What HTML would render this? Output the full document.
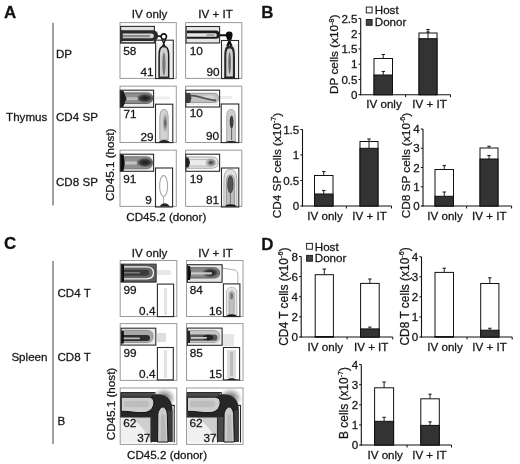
<!DOCTYPE html>
<html><head><meta charset="utf-8"><style>
html,body{margin:0;padding:0;background:#fff;}
svg{display:block;font-family:"Liberation Sans", sans-serif;will-change:transform;}
text{stroke:#222;stroke-width:0.28px;}
</style></head><body>
<svg width="520" height="464" viewBox="0 0 520 464">
<defs>
<filter id="soft" x="-10%" y="-10%" width="120%" height="120%"><feGaussianBlur stdDeviation="0.45"/></filter>
<radialGradient id="cd"><stop offset="0" stop-color="#1a1a1a" stop-opacity="1"/><stop offset="0.55" stop-color="#2a2a2a" stop-opacity="0.85"/><stop offset="1" stop-color="#333" stop-opacity="0"/></radialGradient>
<radialGradient id="cm"><stop offset="0" stop-color="#333" stop-opacity="0.9"/><stop offset="1" stop-color="#555" stop-opacity="0"/></radialGradient>
</defs>
<rect width="520" height="464" fill="#fff"/>
<text x="3.9" y="17.6" font-size="16.9" text-anchor="start" font-weight="bold" fill="#111">A</text>
<text x="261.3" y="17.6" font-size="16.9" text-anchor="start" font-weight="bold" fill="#111">B</text>
<text x="3.9" y="249.4" font-size="16.9" text-anchor="start" font-weight="bold" fill="#111">C</text>
<text x="261.3" y="249.9" font-size="16.9" text-anchor="start" font-weight="bold" fill="#111">D</text>
<line x1="53" y1="22.7" x2="53" y2="205.4" stroke="#7a7a7a" stroke-width="1.4"/>
<line x1="53" y1="260.9" x2="53" y2="444.1" stroke="#7a7a7a" stroke-width="1.4"/>
<text x="56" y="57.6" font-size="11.6" text-anchor="start" font-weight="normal" fill="#111">DP</text>
<text x="47.3" y="121.4" font-size="11.6" text-anchor="end" font-weight="normal" fill="#111">Thymus</text>
<text x="56" y="121.4" font-size="11.6" text-anchor="start" font-weight="normal" fill="#111">CD4 SP</text>
<text x="56" y="185.8" font-size="11.6" text-anchor="start" font-weight="normal" fill="#111">CD8 SP</text>
<text x="47.5" y="361.2" font-size="11.6" text-anchor="end" font-weight="normal" fill="#111">Spleen</text>
<text x="57.5" y="297.3" font-size="11.6" text-anchor="start" font-weight="normal" fill="#111">CD4 T</text>
<text x="57.5" y="361.2" font-size="11.6" text-anchor="start" font-weight="normal" fill="#111">CD8 T</text>
<text x="57.5" y="424.8" font-size="11.6" text-anchor="start" font-weight="normal" fill="#111">B</text>
<text x="149.6" y="18.4" font-size="11.6" text-anchor="middle" font-weight="normal" fill="#111">IV only</text>
<text x="215.5" y="18.4" font-size="11.6" text-anchor="middle" font-weight="normal" fill="#111">IV + IT</text>
<text x="149.6" y="256.7" font-size="11.6" text-anchor="middle" font-weight="normal" fill="#111">IV only</text>
<text x="215.5" y="256.7" font-size="11.6" text-anchor="middle" font-weight="normal" fill="#111">IV + IT</text>
<text x="126.3" y="221.2" font-size="11.6" text-anchor="start" font-weight="normal" fill="#111" textLength="80" lengthAdjust="spacingAndGlyphs">CD45.2 (donor)</text>
<text x="127.1" y="458.8" font-size="11.6" text-anchor="start" font-weight="normal" fill="#111" textLength="80" lengthAdjust="spacingAndGlyphs">CD45.2 (donor)</text>
<text transform="translate(113.6,164.8) rotate(-90)" x="0" y="0" font-size="11.6" text-anchor="middle" fill="#111" textLength="72.5" lengthAdjust="spacingAndGlyphs">CD45.1 (host)</text>
<text transform="translate(114.6,404) rotate(-90)" x="0" y="0" font-size="11.6" text-anchor="middle" fill="#111" textLength="72.5" lengthAdjust="spacingAndGlyphs">CD45.1 (host)</text>
<rect x="120" y="22.6" width="56.30000000000001" height="55.800000000000004" fill="none" stroke="#9a9a9a" stroke-width="1"/>
<rect x="120" y="86.2" width="56.30000000000001" height="56.3" fill="none" stroke="#9a9a9a" stroke-width="1"/>
<rect x="120" y="150.2" width="56.30000000000001" height="56.20000000000002" fill="none" stroke="#9a9a9a" stroke-width="1"/>
<rect x="185.6" y="22.6" width="56.20000000000002" height="55.800000000000004" fill="none" stroke="#9a9a9a" stroke-width="1"/>
<rect x="185.6" y="86.2" width="56.20000000000002" height="56.3" fill="none" stroke="#9a9a9a" stroke-width="1"/>
<rect x="185.6" y="150.2" width="56.20000000000002" height="56.20000000000002" fill="none" stroke="#9a9a9a" stroke-width="1"/>
<rect x="120.2" y="260.5" width="56.60000000000001" height="56.0" fill="none" stroke="#9a9a9a" stroke-width="1"/>
<rect x="120.2" y="323.6" width="56.60000000000001" height="56.799999999999955" fill="none" stroke="#9a9a9a" stroke-width="1"/>
<rect x="120.2" y="388" width="56.60000000000001" height="56.39999999999998" fill="none" stroke="#9a9a9a" stroke-width="1"/>
<rect x="186.5" y="260.5" width="56.5" height="56.0" fill="none" stroke="#9a9a9a" stroke-width="1"/>
<rect x="186.5" y="323.6" width="56.5" height="56.799999999999955" fill="none" stroke="#9a9a9a" stroke-width="1"/>
<rect x="186.5" y="388" width="56.5" height="56.39999999999998" fill="none" stroke="#9a9a9a" stroke-width="1"/>
<g filter="url(#soft)">
<path d="M121,27 L154,27 L154,43 L121,43 Z" fill="#e2e2e2" stroke="none" stroke-width="1" opacity="1"/>
<path d="M156,44 L172.8,44 L172.8,78.2 L156,78.2 Z" fill="#eeeeee" stroke="none" stroke-width="1" opacity="1"/>
<path d="M121,30.199999999999996 L151.52,30.199999999999996 C156.92,30.199999999999996 158,32.72 158,35.8 C158,38.66 156.92,41.0 151.52,41.0 L121,41.0 Z" fill="#2a2a2a" stroke="none" stroke-width="1" opacity="1"/>
<path d="M121,33.4 L151.12,33.4 C153.52,33.4 154,34.57 154,36.0 C154,37.21 153.52,38.2 151.12,38.2 L121,38.2 Z" fill="#d4d4d4" stroke="none" stroke-width="1" opacity="1"/>
<path d="M121,35.0 L148.68,35.0 C149.78,35.0 150,35.540000000000006 150,36.2 C150,36.75 149.78,37.2 148.68,37.2 L121,37.2 Z" fill="#8a8a8a" stroke="none" stroke-width="1" opacity="1"/>
<path d="M121,30 L122.8,30 L122.8,41.5 L121,41.5 Z" fill="#333" stroke="none" stroke-width="1" opacity="1"/>
<path d="M121,42 L154,42 L154,43 L121,43 Z" fill="#777" stroke="none" stroke-width="1" opacity="1"/>
<path d="M161.10000000000002,36.6 A2.7,2.7 0 1 0 166.5,36.6 A2.7,2.7 0 1 0 161.10000000000002,36.6 Z" fill="#fff" stroke="#111" stroke-width="1.6" opacity="1"/>
<path d="M157.5,36 L161.2,36.4" fill="none" stroke="#111" stroke-width="1.6" opacity="1"/>
<path d="M161.8,39 L167.8,53 M165.8,39 L159.6,53" fill="none" stroke="#111" stroke-width="1.3" opacity="1"/>
<path d="M159.1,78.2 L159.1,56.26 C159.1,47.46 161.17,46.5 163.7,46.5 C166.45,46.5 168.7,47.46 168.7,56.26 L168.7,78.2 Z" fill="#cfcfcf" stroke="#1a1a1a" stroke-width="1.5" opacity="1"/>
<path d="M162.3,64 A1.6,11.5 0 1 0 165.5,64 A1.6,11.5 0 1 0 162.3,64 Z" fill="#777" stroke="none" stroke-width="1" opacity="1"/>
<path d="M159,78.4 L169,78.4 L168.5,76.5 L159.5,76.5 Z" fill="#333" stroke="none" stroke-width="1" opacity="1"/>
</g>
<rect x="120.6" y="26.4" width="33.80000000000001" height="16.700000000000003" fill="none" stroke="#2a2a2a" stroke-width="1.1"/>
<rect x="155.6" y="40.2" width="17.700000000000017" height="38.39999999999999" fill="none" stroke="#2a2a2a" stroke-width="1.1"/>
<text x="123.2" y="54.9" font-size="11.8" text-anchor="start" font-weight="normal" fill="#111">58</text>
<text x="153.6" y="75.6" font-size="11.8" text-anchor="end" font-weight="normal" fill="#111">41</text>
<g filter="url(#soft)">
<path d="M187,27 L219,27 L219,43 L187,43 Z" fill="#e6e6e6" stroke="none" stroke-width="1" opacity="1"/>
<path d="M222,44 L238.2,44 L238.2,78.2 L222,78.2 Z" fill="#eeeeee" stroke="none" stroke-width="1" opacity="1"/>
<path d="M186.6,30.6 L214.88000000000002,30.6 C218.98000000000002,30.6 219.8,32.58 219.8,35.0 C219.8,37.09 218.98000000000002,38.8 214.88000000000002,38.8 L186.6,38.8 Z" fill="#1e1e1e" stroke="none" stroke-width="1" opacity="1"/>
<path d="M187,33.300000000000004 L214.70000000000002,33.300000000000004 C216.45000000000002,33.300000000000004 216.8,34.155 216.8,35.2 C216.8,36.080000000000005 216.45000000000002,36.800000000000004 214.70000000000002,36.800000000000004 L187,36.800000000000004 Z" fill="#e4e4e4" stroke="none" stroke-width="1" opacity="1"/>
<path d="M206.0,35.2 A4.5,1.3 0 1 0 215.0,35.2 A4.5,1.3 0 1 0 206.0,35.2 Z" fill="#a8a8a8" stroke="none" stroke-width="1" opacity="1"/>
<path d="M219,35.3 L226,35.2" fill="none" stroke="#111" stroke-width="2" opacity="1"/>
<path d="M225.79999999999998,35.0 A3.4,3.4 0 1 0 232.6,35.0 A3.4,3.4 0 1 0 225.79999999999998,35.0 Z" fill="#111" stroke="none" stroke-width="1" opacity="1"/>
<path d="M227.3,37 L231.5,46 M231.3,37 L227.3,46" fill="none" stroke="#111" stroke-width="2.2" opacity="1"/>
<path d="M224.2,78.2 L224.2,56.980000000000004 C224.2,46.58 226.63,45.5 229.6,45.5 C232.57,45.5 235.0,46.58 235.0,56.980000000000004 L235.0,78.2 Z" fill="#2a2a2a" stroke="none" stroke-width="1" opacity="1"/>
<path d="M226.29999999999998,77.5 L226.29999999999998,56.46 C226.29999999999998,49.16 227.785,48.5 229.6,48.5 C231.415,48.5 232.9,49.16 232.9,56.46 L232.9,77.5 Z" fill="#cfcfcf" stroke="none" stroke-width="1" opacity="1"/>
<path d="M228.29999999999998,63 A1.3,11 0 1 0 230.9,63 A1.3,11 0 1 0 228.29999999999998,63 Z" fill="#666" stroke="none" stroke-width="1" opacity="1"/>
<path d="M224.5,78.4 L235,78.4 L234.5,76.5 L225,76.5 Z" fill="#222" stroke="none" stroke-width="1" opacity="1"/>
</g>
<rect x="186.1" y="26.5" width="33.5" height="16.5" fill="none" stroke="#2a2a2a" stroke-width="1.1"/>
<rect x="221.5" y="40.5" width="17.099999999999994" height="38.099999999999994" fill="none" stroke="#2a2a2a" stroke-width="1.1"/>
<text x="189.8" y="55.2" font-size="11.8" text-anchor="start" font-weight="normal" fill="#111">10</text>
<text x="219.6" y="75.9" font-size="11.8" text-anchor="end" font-weight="normal" fill="#111">90</text>
<g filter="url(#soft)">
<path d="M121,91 L153,91 L153,106.5 L121,106.5 Z" fill="#ececec" stroke="none" stroke-width="1" opacity="1"/>
<path d="M120.5,92.9 L146.2,92.9 C151.45,92.9 152.5,95.285 152.5,98.2 C152.5,101.06 151.45,103.4 146.2,103.4 L120.5,103.4 Z" fill="#8e8e8e" stroke="#555" stroke-width="0.9" opacity="1"/>
<path d="M136,98.2 A9,4.8 0 1 0 154,98.2 A9,4.8 0 1 0 136,98.2 Z" fill="url(#cd)" stroke="none" stroke-width="1" opacity="1"/>
<path d="M122,97.19999999999999 L136.32,97.19999999999999 C137.72,97.19999999999999 138,97.83 138,98.6 C138,99.36999999999999 137.72,100.0 136.32,100.0 L122,100.0 Z" fill="#bdbdbd" stroke="none" stroke-width="1" opacity="1"/>
<path d="M120.3,90.5 L123.2,90.5 L126.5,98.5 L123.2,107 L120.3,107 Z" fill="#1e1e1e" stroke="none" stroke-width="1" opacity="1"/>
<path d="M155,96.5 L170,96.5 L170,99.5 L155,99.5 Z" fill="#eeeeee" stroke="none" stroke-width="1" opacity="1"/>
<path d="M159.8,139.8 L159.8,120.54 C159.8,110.34 161.69,109.5 164.0,109.5 C166.31,109.5 168.2,110.34 168.2,120.54 L168.2,139.8 Z" fill="#d2d2d2" stroke="#9a9a9a" stroke-width="0.9" opacity="1"/>
<path d="M162.6,123 A2.6,10 0 1 0 167.79999999999998,123 A2.6,10 0 1 0 162.6,123 Z" fill="url(#cm)" stroke="none" stroke-width="1" opacity="1"/>
<path d="M158.5,142.5 C159.5,139 168.5,139 170,142.5 Z" fill="#1a1a1a" stroke="none" stroke-width="1" opacity="1"/>
</g>
<rect x="120.3" y="90.2" width="33.3" height="17.099999999999994" fill="none" stroke="#2a2a2a" stroke-width="1.1"/>
<rect x="155.5" y="104.2" width="17.30000000000001" height="38.39999999999999" fill="none" stroke="#2a2a2a" stroke-width="1.1"/>
<text x="123.4" y="117.9" font-size="11.8" text-anchor="start" font-weight="normal" fill="#111">71</text>
<text x="153.6" y="140.6" font-size="11.8" text-anchor="end" font-weight="normal" fill="#111">29</text>
<g filter="url(#soft)">
<path d="M186,92 L218,92 L218,105 L186,105 Z" fill="#eeeeee" stroke="none" stroke-width="1" opacity="1"/>
<path d="M186,93.4 L213.1,93.4 C217.6,93.4 218.5,95.56 218.5,98.2 C218.5,100.51 217.6,102.4 213.1,102.4 L186,102.4 Z" fill="#c2c2c2" stroke="#888" stroke-width="0.8" opacity="1"/>
<path d="M203,97.6 A6,2.4 0 1 0 215,97.6 A6,2.4 0 1 0 203,97.6 Z" fill="#d6d6d6" stroke="none" stroke-width="1" opacity="1"/>
<path d="M188,95.5 C195,95 205,99 216,100.5" fill="none" stroke="#555" stroke-width="1.8" opacity="1"/>
<path d="M186,93 L190,93 L191.5,98 L190,103 L186,103 Z" fill="#3a3a3a" stroke="none" stroke-width="1" opacity="1"/>
<path d="M220,96 L232,96 L232,99 L220,99 Z" fill="#ececec" stroke="none" stroke-width="1" opacity="1"/>
<path d="M226.6,142 L226.6,118.78 C226.6,110.38 228.58,109.5 231.0,109.5 C233.42,109.5 235.4,110.38 235.4,118.78 L235.4,142 Z" fill="#cdcdcd" stroke="#a0a0a0" stroke-width="0.8" opacity="1"/>
<path d="M229.7,122 A1.9,6.5 0 1 0 233.5,122 A1.9,6.5 0 1 0 229.7,122 Z" fill="#3a3a3a" stroke="none" stroke-width="1" opacity="1"/>
<line x1="231.6" y1="128" x2="231.6" y2="140" stroke="#666" stroke-width="1.1"/>
<path d="M225,142.5 C226,140.5 236,140.5 237.5,142.5 Z" fill="#222" stroke="none" stroke-width="1" opacity="1"/>
</g>
<rect x="185.8" y="90.2" width="33.79999999999998" height="16.799999999999997" fill="none" stroke="#2a2a2a" stroke-width="1.1"/>
<rect x="221.2" y="104" width="17.600000000000023" height="38.599999999999994" fill="none" stroke="#2a2a2a" stroke-width="1.1"/>
<text x="189.8" y="117.4" font-size="11.8" text-anchor="start" font-weight="normal" fill="#111">10</text>
<text x="219.2" y="140.4" font-size="11.8" text-anchor="end" font-weight="normal" fill="#111">90</text>
<g filter="url(#soft)">
<path d="M121,155 L153,155 L153,170.5 L121,170.5 Z" fill="#eeeeee" stroke="none" stroke-width="1" opacity="1"/>
<path d="M120.5,156.8 L145.10000000000002,156.8 C151.10000000000002,156.8 152.3,159.5 152.3,162.8 C152.3,166.10000000000002 151.10000000000002,168.8 145.10000000000002,168.8 L120.5,168.8 Z" fill="#909090" stroke="#666" stroke-width="0.8" opacity="1"/>
<path d="M136,162.5 A9,5 0 1 0 154,162.5 A9,5 0 1 0 136,162.5 Z" fill="url(#cd)" stroke="none" stroke-width="1" opacity="1"/>
<path d="M122,161.6 L135.32,161.6 C136.72,161.6 137,162.23 137,163 C137,163.77 136.72,164.4 135.32,164.4 L122,164.4 Z" fill="#c4c4c4" stroke="none" stroke-width="1" opacity="1"/>
<path d="M120.3,154.5 L123.6,154.5 L124.8,163 L123.6,171 L120.3,171 Z" fill="#111" stroke="none" stroke-width="1" opacity="1"/>
<path d="M159.6,186 A4.0,10.5 0 1 0 167.6,186 A4.0,10.5 0 1 0 159.6,186 Z" fill="none" stroke="#a8a8a8" stroke-width="1.1" opacity="1"/>
<path d="M159.5,206.5 C162,202 167,202 170,206.5 Z" fill="#222" stroke="none" stroke-width="1" opacity="1"/>
<line x1="163.6" y1="196.5" x2="163.6" y2="203" stroke="#aaa" stroke-width="1"/>
</g>
<rect x="120.3" y="154.2" width="33.3" height="17.100000000000023" fill="none" stroke="#2a2a2a" stroke-width="1.1"/>
<rect x="155.5" y="168" width="17.099999999999994" height="39" fill="none" stroke="#2a2a2a" stroke-width="1.1"/>
<text x="123.2" y="182.7" font-size="11.8" text-anchor="start" font-weight="normal" fill="#111">91</text>
<text x="151.9" y="204.4" font-size="11.8" text-anchor="end" font-weight="normal" fill="#111">9</text>
<g filter="url(#soft)">
<path d="M186,157.0 L211.28,157.0 C216.88,157.0 218,159.51999999999998 218,162.6 C218,165.68 216.88,168.2 211.28,168.2 L186,168.2 Z" fill="#ececec" stroke="#999" stroke-width="0.9" opacity="1"/>
<path d="M189,159.60000000000002 L210.66,159.60000000000002 C213.86,159.60000000000002 214.5,161.04000000000002 214.5,162.8 C214.5,164.56 213.86,166.0 210.66,166.0 L189,166.0 Z" fill="none" stroke="#aaa" stroke-width="0.8" opacity="1"/>
<path d="M204.5,162.6 A6.5,5 0 1 0 217.5,162.6 A6.5,5 0 1 0 204.5,162.6 Z" fill="url(#cm)" stroke="none" stroke-width="1" opacity="1"/>
<path d="M208.8,162.6 A2.2,1.7 0 1 0 213.2,162.6 A2.2,1.7 0 1 0 208.8,162.6 Z" fill="#555" stroke="none" stroke-width="1" opacity="1"/>
<path d="M185.8,157.5 L188.5,157.5 L190,162.5 L188.5,167.5 L185.8,167.5 Z" fill="#222" stroke="none" stroke-width="1" opacity="1"/>
<path d="M223.9,206.5 L223.9,182.3 C223.9,170.8 226.82500000000002,169.5 230.4,169.5 C233.975,169.5 236.9,170.8 236.9,182.3 L236.9,206.5 Z" fill="#e2e2e2" stroke="#999" stroke-width="0.8" opacity="1"/>
<path d="M226.4,206 L226.4,182.8 C226.4,175.8 228.20000000000002,175 230.4,175 C232.6,175 234.4,175.8 234.4,182.8 L234.4,206 Z" fill="#bcbcbc" stroke="#888" stroke-width="0.8" opacity="1"/>
<path d="M227.8,184.5 A2.6,8.5 0 1 0 233.0,184.5 A2.6,8.5 0 1 0 227.8,184.5 Z" fill="#555" stroke="#333" stroke-width="0.8" opacity="1"/>
<line x1="230.4" y1="193" x2="230.4" y2="204" stroke="#777" stroke-width="1.0"/>
<path d="M225,206.6 C225.5,203.5 235.5,203.5 236.5,206.6 Z" fill="#111" stroke="none" stroke-width="1" opacity="1"/>
</g>
<rect x="185.8" y="154.2" width="33.79999999999998" height="17.100000000000023" fill="none" stroke="#2a2a2a" stroke-width="1.1"/>
<rect x="221.5" y="168" width="17.30000000000001" height="39" fill="none" stroke="#2a2a2a" stroke-width="1.1"/>
<text x="189.8" y="182.9" font-size="11.8" text-anchor="start" font-weight="normal" fill="#111">19</text>
<text x="219.2" y="204.4" font-size="11.8" text-anchor="end" font-weight="normal" fill="#111">81</text>
<g filter="url(#soft)">
<path d="M121.5,264.5 L156,264.5 L156,282 L121.5,282 Z" fill="#5e5e5e" stroke="none" stroke-width="1" opacity="1"/>
<path d="M121.5,266.8 L146.3,266.8 C152.3,266.8 153.5,269.5 153.5,272.8 C153.5,276.1 152.3,278.8 146.3,278.8 L121.5,278.8 Z" fill="#666" stroke="#f4f4f4" stroke-width="1.3" opacity="1"/>
<path d="M122,269.8 L145.4,269.8 C148.4,269.8 149,271.15000000000003 149,272.8 C149,274.45 148.4,275.8 145.4,275.8 L122,275.8 Z" fill="#3a3a3a" stroke="none" stroke-width="1" opacity="1"/>
<line x1="123" y1="272.8" x2="140" y2="272.8" stroke="#999" stroke-width="1"/>
<path d="M121.1,264.5 L124,264.5 L124,282 L121.1,282 Z" fill="#111" stroke="none" stroke-width="1" opacity="1"/>
<path d="M156,270 L171,270 L171,275 L156,275 Z" fill="#e8e8e8" stroke="none" stroke-width="1" opacity="1"/>
<path d="M164,288 L167,288 L167,315 L164,315 Z" fill="#e4e4e4" stroke="none" stroke-width="1" opacity="1"/>
</g>
<rect x="121.1" y="264.2" width="35.0" height="17.900000000000034" fill="none" stroke="#2a2a2a" stroke-width="1.1"/>
<rect x="157.4" y="284.1" width="16.19999999999999" height="32.5" fill="none" stroke="#2a2a2a" stroke-width="1.1"/>
<text x="123.4" y="293.6" font-size="11.8" text-anchor="start" font-weight="normal" fill="#111">99</text>
<text x="155.5" y="314.6" font-size="11.8" text-anchor="end" font-weight="normal" fill="#111">0.4</text>
<g filter="url(#soft)">
<path d="M188,265.5 L222,265.5 L222,281.5 L188,281.5 Z" fill="#e4e4e4" stroke="none" stroke-width="1" opacity="1"/>
<path d="M187.5,267.8 L213.38,267.8 C218.48,267.8 219.5,270.14 219.5,273 C219.5,275.75 218.48,278.0 213.38,278.0 L187.5,278.0 Z" fill="#8a8a8a" stroke="#555" stroke-width="0.9" opacity="1"/>
<path d="M201.5,272.8 A9,5 0 1 0 219.5,272.8 A9,5 0 1 0 201.5,272.8 Z" fill="url(#cd)" stroke="none" stroke-width="1" opacity="1"/>
<path d="M189,272.2 L210.68,272.2 C211.78,272.2 212,272.695 212,273.3 C212,273.90500000000003 211.78,274.40000000000003 210.68,274.40000000000003 L189,274.40000000000003 Z" fill="#c8c8c8" stroke="none" stroke-width="1" opacity="1"/>
<path d="M187.4,266 L190,266 L191,273 L190,280 L187.4,280 Z" fill="#111" stroke="none" stroke-width="1" opacity="1"/>
<path d="M222,268 L235,270 C238,271 238.5,276 237.5,284" fill="none" stroke="#999" stroke-width="0.8" opacity="1"/>
<path d="M226.4,316.5 L226.4,293.74 C226.4,288.54 228.73999999999998,287.5 231.6,287.5 C234.46,287.5 236.79999999999998,288.54 236.79999999999998,293.74 L236.79999999999998,316.5 Z" fill="#e8e8e8" stroke="#aaa" stroke-width="0.8" opacity="1"/>
<path d="M229.0,316 L229.0,294.12 C229.0,291.52 230.17,291 231.6,291 C233.03,291 234.2,291.52 234.2,294.12 L234.2,316 Z" fill="#c0c0c0" stroke="#999" stroke-width="0.7" opacity="1"/>
<path d="M230.1,296 A1.5,3.5 0 1 0 233.1,296 A1.5,3.5 0 1 0 230.1,296 Z" fill="#777" stroke="none" stroke-width="1" opacity="1"/>
<path d="M226,316.8 C227,313.5 236,313.5 237.5,316.8 Z" fill="#111" stroke="none" stroke-width="1" opacity="1"/>
</g>
<rect x="187.4" y="264.7" width="34.69999999999999" height="17.600000000000023" fill="none" stroke="#2a2a2a" stroke-width="1.1"/>
<rect x="223.4" y="283.9" width="16.5" height="32.700000000000045" fill="none" stroke="#2a2a2a" stroke-width="1.1"/>
<text x="189.8" y="293.6" font-size="11.8" text-anchor="start" font-weight="normal" fill="#111">84</text>
<text x="222.1" y="314.6" font-size="11.8" text-anchor="end" font-weight="normal" fill="#111">16</text>
<g filter="url(#soft)">
<path d="M121.5,329 L155,329 L155,344.5 L121.5,344.5 Z" fill="#e8e8e8" stroke="none" stroke-width="1" opacity="1"/>
<path d="M121.5,330.3 L145.68,330.3 C151.78,330.3 153,333.09 153,336.5 C153,339.8 151.78,342.5 145.68,342.5 L121.5,342.5 Z" fill="#a8a8a8" stroke="#888" stroke-width="0.8" opacity="1"/>
<path d="M121.5,334.90000000000003 L146.28,334.90000000000003 C149.38,334.90000000000003 150,336.43 150,338.3 C150,339.84000000000003 149.38,341.1 146.28,341.1 L121.5,341.1 Z" fill="#2e2e2e" stroke="none" stroke-width="1" opacity="1"/>
<path d="M123,337.40000000000003 L138.92,337.40000000000003 C139.82,337.40000000000003 140,337.805 140,338.3 C140,338.795 139.82,339.2 138.92,339.2 L123,339.2 Z" fill="#bbb" stroke="none" stroke-width="1" opacity="1"/>
<path d="M121.1,331 L123.8,331 L123.8,343.5 L121.1,343.5 Z" fill="#111" stroke="none" stroke-width="1" opacity="1"/>
<path d="M157,333 L166,333 L166,342 L157,342 Z" fill="#dedede" stroke="none" stroke-width="1" opacity="1"/>
<path d="M164,350 L167,350 L167,378 L164,378 Z" fill="#e2e2e2" stroke="none" stroke-width="1" opacity="1"/>
</g>
<rect x="121.1" y="328.2" width="34.70000000000002" height="16.900000000000034" fill="none" stroke="#2a2a2a" stroke-width="1.1"/>
<rect x="157.4" y="347.5" width="15.900000000000006" height="32.39999999999998" fill="none" stroke="#2a2a2a" stroke-width="1.1"/>
<text x="123.4" y="357.2" font-size="11.8" text-anchor="start" font-weight="normal" fill="#111">99</text>
<text x="155.5" y="377.9" font-size="11.8" text-anchor="end" font-weight="normal" fill="#111">0.4</text>
<g filter="url(#soft)">
<path d="M188,329 L221.5,329 L221.5,344.5 L188,344.5 Z" fill="#ececec" stroke="none" stroke-width="1" opacity="1"/>
<path d="M188,330.5 L212.3,330.5 C218.3,330.5 219.5,333.2 219.5,336.5 C219.5,339.8 218.3,342.5 212.3,342.5 L188,342.5 Z" fill="#c4c4c4" stroke="#999" stroke-width="0.8" opacity="1"/>
<path d="M189,334.40000000000003 L213.66,334.40000000000003 C216.86,334.40000000000003 217.5,335.93 217.5,337.8 C217.5,339.45 216.86,340.8 213.66,340.8 L189,340.8 Z" fill="#555" stroke="none" stroke-width="1" opacity="1"/>
<path d="M202.5,337.6 A5.5,2.8 0 1 0 213.5,337.6 A5.5,2.8 0 1 0 202.5,337.6 Z" fill="#222" stroke="none" stroke-width="1" opacity="1"/>
<path d="M191,336.90000000000003 L205.92,336.90000000000003 C206.82,336.90000000000003 207,337.305 207,337.8 C207,338.295 206.82,338.7 205.92,338.7 L191,338.7 Z" fill="#ccc" stroke="none" stroke-width="1" opacity="1"/>
<path d="M187.4,331 L190,331 L190,343 L187.4,343 Z" fill="#222" stroke="none" stroke-width="1" opacity="1"/>
<path d="M222,334 L234,334 L234,346 L222,346 Z" fill="#e6e6e6" stroke="none" stroke-width="1" opacity="1"/>
<path d="M227,350 L236,350 L236,378 L227,378 Z" fill="#dcdcdc" stroke="none" stroke-width="1" opacity="1"/>
<path d="M230,352 L233,352 L233,376 L230,376 Z" fill="#bbb" stroke="none" stroke-width="1" opacity="1"/>
<path d="M227,380 C228,377.5 235,377.5 236.5,380 Z" fill="#111" stroke="none" stroke-width="1" opacity="1"/>
</g>
<rect x="187.4" y="328.1" width="34.69999999999999" height="17.19999999999999" fill="none" stroke="#2a2a2a" stroke-width="1.1"/>
<rect x="223.4" y="347.5" width="16.19999999999999" height="32.39999999999998" fill="none" stroke="#2a2a2a" stroke-width="1.1"/>
<text x="189.8" y="357.2" font-size="11.8" text-anchor="start" font-weight="normal" fill="#111">85</text>
<text x="222.1" y="377.9" font-size="11.8" text-anchor="end" font-weight="normal" fill="#111">15</text>
<g filter="url(#soft)">
<path d="M152,398 A12,10 0 1 0 176,398 A12,10 0 1 0 152,398 Z" fill="url(#cm)" stroke="none" stroke-width="1" opacity="1"/>
<path d="M121,414 L151,414 L151,442.5 L121,442.5 Z" fill="#f0f0f0" stroke="none" stroke-width="1" opacity="1"/>
<path d="M128,414 L151,414 L151,440 C146,434 142,424 128,416 Z" fill="#cfcfcf" stroke="none" stroke-width="1" opacity="1"/>
<path d="M121,392.8 L154,392.8 L154,397.5 L121,397.5 Z" fill="#4a4a4a" stroke="none" stroke-width="1" opacity="1"/>
<path d="M121,410.5 C130,410.5 138,413 145,412 C150,411 152,407 153,402 L155,402 L155,417 L121,417 Z" fill="#262626" stroke="none" stroke-width="1" opacity="1"/>
<path d="M150.5,396 C156,393 165,394 169.5,399.5 C171.5,402 172.5,406 172.5,410 L172.5,442 L150.8,442 L150.8,417 Z" fill="#262626" stroke="none" stroke-width="1" opacity="1"/>
<path d="M150.8,417 L157.8,417 L157.8,442 L150.8,442 Z" fill="#2a2a2a" stroke="none" stroke-width="1" opacity="1"/>
<path d="M167.5,411 L172.5,410 L172.5,442 L167.5,442 Z" fill="#3a3a3a" stroke="none" stroke-width="1" opacity="1"/>
<path d="M121.2,397.2 L148,397.2 C152.5,397.2 154.3,399.8 153.8,403.5 C153.2,408.5 150,412 144,412.6 C136,413.2 128,410.8 121.2,411.4 Z" fill="#cdcdcd" stroke="#111" stroke-width="1.0" opacity="1"/>
<path d="M124,401 L146,400.8 C150,400.8 150,407 146,407.5 L124,407 Z" fill="#bdbdbd" stroke="none" stroke-width="1" opacity="1"/>
<path d="M157.6,442 L157.8,414.5 C158.2,409.5 161.5,406.8 163,407 C165,407.2 167,410 167.3,414.5 L168,442 Z" fill="#cbcbcb" stroke="#111" stroke-width="1.0" opacity="1"/>
<path d="M160.5,441 L161,417 C161.5,413 164.5,413 165,417 L166,441 Z" fill="#b8b8b8" stroke="none" stroke-width="1" opacity="1"/>
</g>
<path d="M120.8,392.5 L154.9,392.5 L154.9,398 M120.8,392.5 L120.8,417 L151,417" fill="none" stroke="#2a2a2a" stroke-width="1.1"/>
<path d="M151.2,442.5 L151.2,417 L156.5,407 M168,405.4 L174.2,405.4 L174.2,442.5" fill="none" stroke="#2a2a2a" stroke-width="1.1"/>
<text x="123.2" y="427.4" font-size="11.8" text-anchor="start" font-weight="normal" fill="#111">62</text>
<text x="150.4" y="442.0" font-size="11.8" text-anchor="end" font-weight="normal" fill="#111">37</text>
<g filter="url(#soft)">
<path d="M218.3,398 A12,10 0 1 0 242.3,398 A12,10 0 1 0 218.3,398 Z" fill="url(#cm)" stroke="none" stroke-width="1" opacity="1"/>
<path d="M187.3,414 L217.3,414 L217.3,442.5 L187.3,442.5 Z" fill="#f0f0f0" stroke="none" stroke-width="1" opacity="1"/>
<path d="M194.3,414 L217.3,414 L217.3,440 C212.3,434 208.3,424 194.3,416 Z" fill="#cfcfcf" stroke="none" stroke-width="1" opacity="1"/>
<path d="M187.3,392.8 L220.3,392.8 L220.3,397.5 L187.3,397.5 Z" fill="#4a4a4a" stroke="none" stroke-width="1" opacity="1"/>
<path d="M187.3,410.5 C196.3,410.5 204.3,413 211.3,412 C216.3,411 218.3,407 219.3,402 L221.3,402 L221.3,417 L187.3,417 Z" fill="#262626" stroke="none" stroke-width="1" opacity="1"/>
<path d="M216.8,396 C222.3,393 231.3,394 235.8,399.5 C237.8,402 238.8,406 238.8,410 L238.8,442 L217.1,442 L217.1,417 Z" fill="#262626" stroke="none" stroke-width="1" opacity="1"/>
<path d="M217.1,417 L224.1,417 L224.1,442 L217.1,442 Z" fill="#4a4a4a" stroke="none" stroke-width="1" opacity="1"/>
<path d="M233.8,411 L238.8,410 L238.8,442 L233.8,442 Z" fill="#3a3a3a" stroke="none" stroke-width="1" opacity="1"/>
<path d="M187.5,397.2 L214.3,397.2 C218.8,397.2 220.6,399.8 220.1,403.5 C219.5,408.5 216.3,412 210.3,412.6 C202.3,413.2 194.3,410.8 187.5,411.4 Z" fill="#cdcdcd" stroke="#111" stroke-width="1.0" opacity="1"/>
<path d="M190.3,401 L212.3,400.8 C216.3,400.8 216.3,407 212.3,407.5 L190.3,407 Z" fill="#bdbdbd" stroke="none" stroke-width="1" opacity="1"/>
<path d="M223.9,442 L224.1,414.5 C224.5,409.5 227.8,406.8 229.3,407 C231.3,407.2 233.3,410 233.6,414.5 L234.3,442 Z" fill="#cbcbcb" stroke="#111" stroke-width="1.0" opacity="1"/>
<path d="M226.8,441 L227.3,417 C227.8,413 230.8,413 231.3,417 L232.3,441 Z" fill="#b8b8b8" stroke="none" stroke-width="1" opacity="1"/>
</g>
<path d="M187.1,392.5 L221.2,392.5 L221.2,398 M187.1,392.5 L187.1,417 L217.3,417" fill="none" stroke="#2a2a2a" stroke-width="1.1"/>
<path d="M217.5,442.5 L217.5,417 L222.8,407 M234.3,405.4 L240.5,405.4 L240.5,442.5" fill="none" stroke="#2a2a2a" stroke-width="1.1"/>
<text x="189.5" y="427.4" font-size="11.8" text-anchor="start" font-weight="normal" fill="#111">62</text>
<text x="216.7" y="442.0" font-size="11.8" text-anchor="end" font-weight="normal" fill="#111">37</text>
<line x1="360.7" y1="18.450000000000003" x2="360.7" y2="95.2" stroke="#111" stroke-width="1.1"/>
<line x1="360.2" y1="94.7" x2="450.5" y2="94.7" stroke="#111" stroke-width="1.1"/>
<line x1="358.5" y1="94.7" x2="360.7" y2="94.7" stroke="#111" stroke-width="1"/>
<text x="357.5" y="98.9" font-size="11.6" text-anchor="end" font-weight="normal" fill="#111">0</text>
<line x1="358.5" y1="79.45" x2="360.7" y2="79.45" stroke="#111" stroke-width="1"/>
<text x="357.5" y="83.65" font-size="11.6" text-anchor="end" font-weight="normal" fill="#111">0.5</text>
<line x1="358.5" y1="64.2" x2="360.7" y2="64.2" stroke="#111" stroke-width="1"/>
<text x="357.5" y="68.4" font-size="11.6" text-anchor="end" font-weight="normal" fill="#111">1</text>
<line x1="358.5" y1="48.95" x2="360.7" y2="48.95" stroke="#111" stroke-width="1"/>
<text x="357.5" y="53.150000000000006" font-size="11.6" text-anchor="end" font-weight="normal" fill="#111">1.5</text>
<line x1="358.5" y1="33.7" x2="360.7" y2="33.7" stroke="#111" stroke-width="1"/>
<text x="357.5" y="37.900000000000006" font-size="11.6" text-anchor="end" font-weight="normal" fill="#111">2</text>
<line x1="358.5" y1="18.450000000000003" x2="360.7" y2="18.450000000000003" stroke="#111" stroke-width="1"/>
<text x="357.5" y="22.650000000000002" font-size="11.6" text-anchor="end" font-weight="normal" fill="#111">2.5</text>
<line x1="450.5" y1="94.7" x2="450.5" y2="97.2" stroke="#111" stroke-width="1"/>
<line x1="405.625" y1="94.7" x2="405.625" y2="97.2" stroke="#111" stroke-width="1"/>
<rect x="374" y="58.5" width="18.5" height="36.2" fill="#fff" stroke="#111" stroke-width="1"/>
<rect x="374" y="75.0" width="18.5" height="19.700000000000003" fill="#333" stroke="#111" stroke-width="1"/>
<line x1="383.25" y1="58.5" x2="383.25" y2="54.5" stroke="#222" stroke-width="1.0"/>
<line x1="381.55" y1="54.5" x2="384.95" y2="54.5" stroke="#222" stroke-width="1.1"/>
<line x1="383.25" y1="75.0" x2="383.25" y2="71.5" stroke="#222" stroke-width="1.0"/>
<line x1="381.55" y1="71.5" x2="384.95" y2="71.5" stroke="#222" stroke-width="1.1"/>
<rect x="419" y="33.0" width="18" height="61.7" fill="#fff" stroke="#111" stroke-width="1"/>
<rect x="419" y="38.7" width="18" height="56.0" fill="#333" stroke="#111" stroke-width="1"/>
<line x1="428.0" y1="33.0" x2="428.0" y2="29.5" stroke="#222" stroke-width="1.0"/>
<line x1="426.3" y1="29.5" x2="429.7" y2="29.5" stroke="#222" stroke-width="1.1"/>
<line x1="428.0" y1="38.7" x2="428.0" y2="32" stroke="#222" stroke-width="1.0"/>
<line x1="426.3" y1="32" x2="429.7" y2="32" stroke="#222" stroke-width="1.1"/>
<text x="384" y="107.6" font-size="11.6" text-anchor="middle" font-weight="normal" fill="#111">IV only</text>
<text x="429.5" y="107.6" font-size="11.6" text-anchor="middle" font-weight="normal" fill="#111">IV + IT</text>
<text transform="translate(338.1,93.9) rotate(-90)" x="0" y="0" font-size="11.75" text-anchor="start" fill="#111">DP cells (x10<tspan font-size="7.2" dy="-4.6">-8</tspan><tspan dy="4.6">)</tspan></text>
<rect x="366.3" y="7.1000000000000005" width="5.8" height="5.8" fill="#fff" stroke="#222" stroke-width="1"/>
<text x="374.8" y="14.3" font-size="11.6" text-anchor="start" font-weight="normal" fill="#111">Host</text>
<rect x="366.3" y="19.5" width="5.8" height="5.8" fill="#444" stroke="#222" stroke-width="1"/>
<text x="374.8" y="26.3" font-size="11.6" text-anchor="start" font-weight="normal" fill="#111">Donor</text>
<line x1="302.5" y1="129.5" x2="302.5" y2="206.5" stroke="#111" stroke-width="1.1"/>
<line x1="302.0" y1="206" x2="391.5" y2="206" stroke="#111" stroke-width="1.1"/>
<line x1="300.3" y1="206" x2="302.5" y2="206" stroke="#111" stroke-width="1"/>
<text x="299.3" y="210.2" font-size="11.6" text-anchor="end" font-weight="normal" fill="#111">0</text>
<line x1="300.3" y1="180.5" x2="302.5" y2="180.5" stroke="#111" stroke-width="1"/>
<text x="299.3" y="184.7" font-size="11.6" text-anchor="end" font-weight="normal" fill="#111">0.5</text>
<line x1="300.3" y1="155" x2="302.5" y2="155" stroke="#111" stroke-width="1"/>
<text x="299.3" y="159.2" font-size="11.6" text-anchor="end" font-weight="normal" fill="#111">1</text>
<line x1="300.3" y1="129.5" x2="302.5" y2="129.5" stroke="#111" stroke-width="1"/>
<text x="299.3" y="133.7" font-size="11.6" text-anchor="end" font-weight="normal" fill="#111">1.5</text>
<line x1="391.5" y1="206" x2="391.5" y2="208.5" stroke="#111" stroke-width="1"/>
<line x1="346.375" y1="206" x2="346.375" y2="208.5" stroke="#111" stroke-width="1"/>
<rect x="314.5" y="175.5" width="18.5" height="30.5" fill="#fff" stroke="#111" stroke-width="1"/>
<rect x="314.5" y="194.0" width="18.5" height="12.0" fill="#333" stroke="#111" stroke-width="1"/>
<line x1="323.75" y1="175.5" x2="323.75" y2="171.5" stroke="#222" stroke-width="1.0"/>
<line x1="322.05" y1="171.5" x2="325.45" y2="171.5" stroke="#222" stroke-width="1.1"/>
<line x1="323.75" y1="194.0" x2="323.75" y2="190.5" stroke="#222" stroke-width="1.0"/>
<line x1="322.05" y1="190.5" x2="325.45" y2="190.5" stroke="#222" stroke-width="1.1"/>
<rect x="360" y="141.5" width="18" height="64.5" fill="#fff" stroke="#111" stroke-width="1"/>
<rect x="360" y="148.3" width="18" height="57.69999999999999" fill="#333" stroke="#111" stroke-width="1"/>
<line x1="369.0" y1="141.5" x2="369.0" y2="139" stroke="#222" stroke-width="1.0"/>
<line x1="367.3" y1="139" x2="370.7" y2="139" stroke="#222" stroke-width="1.1"/>
<line x1="369.0" y1="148.3" x2="369.0" y2="141.5" stroke="#222" stroke-width="1.0"/>
<line x1="367.3" y1="141.5" x2="370.7" y2="141.5" stroke="#222" stroke-width="1.1"/>
<text x="325" y="220" font-size="11.6" text-anchor="middle" font-weight="normal" fill="#111">IV only</text>
<text x="369.5" y="220" font-size="11.6" text-anchor="middle" font-weight="normal" fill="#111">IV + IT</text>
<text transform="translate(280.7,218.2) rotate(-90)" x="0" y="0" font-size="11.75" text-anchor="start" fill="#111">CD4 SP cells (x10<tspan font-size="7.2" dy="-4.6">-7</tspan><tspan dy="4.6">)</tspan></text>
<line x1="423" y1="129.0" x2="423" y2="206.5" stroke="#111" stroke-width="1.1"/>
<line x1="422.5" y1="206" x2="511.6" y2="206" stroke="#111" stroke-width="1.1"/>
<line x1="420.8" y1="206.0" x2="423" y2="206.0" stroke="#111" stroke-width="1"/>
<text x="419.8" y="210.2" font-size="11.6" text-anchor="end" font-weight="normal" fill="#111">0</text>
<line x1="420.8" y1="186.75" x2="423" y2="186.75" stroke="#111" stroke-width="1"/>
<text x="419.8" y="190.95" font-size="11.6" text-anchor="end" font-weight="normal" fill="#111">1</text>
<line x1="420.8" y1="167.5" x2="423" y2="167.5" stroke="#111" stroke-width="1"/>
<text x="419.8" y="171.7" font-size="11.6" text-anchor="end" font-weight="normal" fill="#111">2</text>
<line x1="420.8" y1="148.25" x2="423" y2="148.25" stroke="#111" stroke-width="1"/>
<text x="419.8" y="152.45" font-size="11.6" text-anchor="end" font-weight="normal" fill="#111">3</text>
<line x1="420.8" y1="129.0" x2="423" y2="129.0" stroke="#111" stroke-width="1"/>
<text x="419.8" y="133.2" font-size="11.6" text-anchor="end" font-weight="normal" fill="#111">4</text>
<line x1="511.6" y1="206" x2="511.6" y2="208.5" stroke="#111" stroke-width="1"/>
<line x1="466.625" y1="206" x2="466.625" y2="208.5" stroke="#111" stroke-width="1"/>
<rect x="435" y="169.5" width="18.5" height="36.5" fill="#fff" stroke="#111" stroke-width="1"/>
<rect x="435" y="196.3" width="18.5" height="9.699999999999989" fill="#333" stroke="#111" stroke-width="1"/>
<line x1="444.25" y1="169.5" x2="444.25" y2="165.5" stroke="#222" stroke-width="1.0"/>
<line x1="442.55" y1="165.5" x2="445.95" y2="165.5" stroke="#222" stroke-width="1.1"/>
<line x1="444.25" y1="196.3" x2="444.25" y2="192" stroke="#222" stroke-width="1.0"/>
<line x1="442.55" y1="192" x2="445.95" y2="192" stroke="#222" stroke-width="1.1"/>
<rect x="480" y="148.0" width="18" height="58.0" fill="#fff" stroke="#111" stroke-width="1"/>
<rect x="480" y="159.0" width="18" height="47.0" fill="#333" stroke="#111" stroke-width="1"/>
<line x1="489.0" y1="148.0" x2="489.0" y2="146.3" stroke="#222" stroke-width="1.0"/>
<line x1="487.3" y1="146.3" x2="490.7" y2="146.3" stroke="#222" stroke-width="1.1"/>
<line x1="489.0" y1="159.0" x2="489.0" y2="155.5" stroke="#222" stroke-width="1.0"/>
<line x1="487.3" y1="155.5" x2="490.7" y2="155.5" stroke="#222" stroke-width="1.1"/>
<text x="445" y="220" font-size="11.6" text-anchor="middle" font-weight="normal" fill="#111">IV only</text>
<text x="489.3" y="220" font-size="11.6" text-anchor="middle" font-weight="normal" fill="#111">IV + IT</text>
<text transform="translate(409.5,218.2) rotate(-90)" x="0" y="0" font-size="11.75" text-anchor="start" fill="#111">CD8 SP cells (x10<tspan font-size="7.2" dy="-4.6">-6</tspan><tspan dy="4.6">)</tspan></text>
<line x1="301.2" y1="256.52" x2="301.2" y2="337.5" stroke="#111" stroke-width="1.1"/>
<line x1="300.7" y1="337" x2="392.8" y2="337" stroke="#111" stroke-width="1.1"/>
<line x1="299.0" y1="337.0" x2="301.2" y2="337.0" stroke="#111" stroke-width="1"/>
<text x="298.0" y="341.2" font-size="11.6" text-anchor="end" font-weight="normal" fill="#111">0</text>
<line x1="299.0" y1="316.88" x2="301.2" y2="316.88" stroke="#111" stroke-width="1"/>
<text x="298.0" y="321.08" font-size="11.6" text-anchor="end" font-weight="normal" fill="#111">2</text>
<line x1="299.0" y1="296.76" x2="301.2" y2="296.76" stroke="#111" stroke-width="1"/>
<text x="298.0" y="300.96" font-size="11.6" text-anchor="end" font-weight="normal" fill="#111">4</text>
<line x1="299.0" y1="276.64" x2="301.2" y2="276.64" stroke="#111" stroke-width="1"/>
<text x="298.0" y="280.84" font-size="11.6" text-anchor="end" font-weight="normal" fill="#111">6</text>
<line x1="299.0" y1="256.52" x2="301.2" y2="256.52" stroke="#111" stroke-width="1"/>
<text x="298.0" y="260.71999999999997" font-size="11.6" text-anchor="end" font-weight="normal" fill="#111">8</text>
<line x1="392.8" y1="337" x2="392.8" y2="339.5" stroke="#111" stroke-width="1"/>
<line x1="347.09999999999997" y1="337" x2="347.09999999999997" y2="339.5" stroke="#111" stroke-width="1"/>
<rect x="315.2" y="274.7" width="18.19999999999999" height="62.30000000000001" fill="#fff" stroke="#111" stroke-width="1"/>
<rect x="315.2" y="336.497" width="18.19999999999999" height="0.503" fill="#333" stroke="#111" stroke-width="1"/>
<line x1="324.29999999999995" y1="274.7" x2="324.29999999999995" y2="269" stroke="#222" stroke-width="1.0"/>
<line x1="322.59999999999997" y1="269" x2="325.99999999999994" y2="269" stroke="#222" stroke-width="1.1"/>
<rect x="360.6" y="283.4" width="18.599999999999966" height="53.60000000000002" fill="#fff" stroke="#111" stroke-width="1"/>
<rect x="360.6" y="328.9" width="18.599999999999966" height="8.100000000000023" fill="#333" stroke="#111" stroke-width="1"/>
<line x1="369.9" y1="283.4" x2="369.9" y2="279" stroke="#222" stroke-width="1.0"/>
<line x1="368.2" y1="279" x2="371.59999999999997" y2="279" stroke="#222" stroke-width="1.1"/>
<line x1="369.9" y1="328.9" x2="369.9" y2="327.1" stroke="#222" stroke-width="1.0"/>
<line x1="368.2" y1="327.1" x2="371.59999999999997" y2="327.1" stroke="#222" stroke-width="1.1"/>
<text x="325.3" y="351.3" font-size="11.6" text-anchor="middle" font-weight="normal" fill="#111">IV only</text>
<text x="371.2" y="351.3" font-size="11.6" text-anchor="middle" font-weight="normal" fill="#111">IV + IT</text>
<text transform="translate(287.5,345.8) rotate(-90)" x="0" y="0" font-size="11.95" text-anchor="start" fill="#111">CD4 T cells (x10<tspan font-size="7.2" dy="-4.6">-6</tspan><tspan dy="4.6">)</tspan></text>
<rect x="306.6" y="243.4" width="5.8" height="5.8" fill="#fff" stroke="#222" stroke-width="1"/>
<text x="314.8" y="250.6" font-size="11.6" text-anchor="start" font-weight="normal" fill="#111">Host</text>
<rect x="306.6" y="255.39999999999998" width="5.8" height="5.8" fill="#444" stroke="#222" stroke-width="1"/>
<text x="314.8" y="262.2" font-size="11.6" text-anchor="start" font-weight="normal" fill="#111">Donor</text>
<line x1="421.5" y1="256.8" x2="421.5" y2="337.5" stroke="#111" stroke-width="1.1"/>
<line x1="421.0" y1="337" x2="512.2" y2="337" stroke="#111" stroke-width="1.1"/>
<line x1="419.3" y1="337.0" x2="421.5" y2="337.0" stroke="#111" stroke-width="1"/>
<text x="418.3" y="341.2" font-size="11.6" text-anchor="end" font-weight="normal" fill="#111">0</text>
<line x1="419.3" y1="316.95" x2="421.5" y2="316.95" stroke="#111" stroke-width="1"/>
<text x="418.3" y="321.15" font-size="11.6" text-anchor="end" font-weight="normal" fill="#111">1</text>
<line x1="419.3" y1="296.9" x2="421.5" y2="296.9" stroke="#111" stroke-width="1"/>
<text x="418.3" y="301.09999999999997" font-size="11.6" text-anchor="end" font-weight="normal" fill="#111">2</text>
<line x1="419.3" y1="276.85" x2="421.5" y2="276.85" stroke="#111" stroke-width="1"/>
<text x="418.3" y="281.05" font-size="11.6" text-anchor="end" font-weight="normal" fill="#111">3</text>
<line x1="419.3" y1="256.8" x2="421.5" y2="256.8" stroke="#111" stroke-width="1"/>
<text x="418.3" y="261.0" font-size="11.6" text-anchor="end" font-weight="normal" fill="#111">4</text>
<line x1="512.2" y1="337" x2="512.2" y2="339.5" stroke="#111" stroke-width="1"/>
<line x1="467.025" y1="337" x2="467.025" y2="339.5" stroke="#111" stroke-width="1"/>
<rect x="435" y="272.4" width="18.5" height="64.60000000000002" fill="#fff" stroke="#111" stroke-width="1"/>
<rect x="435" y="336.599" width="18.5" height="0.401" fill="#333" stroke="#111" stroke-width="1"/>
<line x1="444.25" y1="272.4" x2="444.25" y2="268.2" stroke="#222" stroke-width="1.0"/>
<line x1="442.55" y1="268.2" x2="445.95" y2="268.2" stroke="#222" stroke-width="1.1"/>
<rect x="480.7" y="283.5" width="18.19999999999999" height="53.50000000000001" fill="#fff" stroke="#111" stroke-width="1"/>
<rect x="480.7" y="330.2" width="18.19999999999999" height="6.800000000000012" fill="#333" stroke="#111" stroke-width="1"/>
<line x1="489.79999999999995" y1="283.5" x2="489.79999999999995" y2="277.8" stroke="#222" stroke-width="1.0"/>
<line x1="488.09999999999997" y1="277.8" x2="491.49999999999994" y2="277.8" stroke="#222" stroke-width="1.1"/>
<line x1="489.79999999999995" y1="330.2" x2="489.79999999999995" y2="328.3" stroke="#222" stroke-width="1.0"/>
<line x1="488.09999999999997" y1="328.3" x2="491.49999999999994" y2="328.3" stroke="#222" stroke-width="1.1"/>
<text x="445" y="351.3" font-size="11.6" text-anchor="middle" font-weight="normal" fill="#111">IV only</text>
<text x="489.5" y="351.3" font-size="11.6" text-anchor="middle" font-weight="normal" fill="#111">IV + IT</text>
<text transform="translate(408.5,345.5) rotate(-90)" x="0" y="0" font-size="11.95" text-anchor="start" fill="#111">CD8 T cells (x10<tspan font-size="7.2" dy="-4.6">-6</tspan><tspan dy="4.6">)</tspan></text>
<line x1="361.3" y1="364.6" x2="361.3" y2="445.5" stroke="#111" stroke-width="1.1"/>
<line x1="360.8" y1="445" x2="451.5" y2="445" stroke="#111" stroke-width="1.1"/>
<line x1="359.1" y1="445.0" x2="361.3" y2="445.0" stroke="#111" stroke-width="1"/>
<text x="358.1" y="449.2" font-size="11.6" text-anchor="end" font-weight="normal" fill="#111">0</text>
<line x1="359.1" y1="424.9" x2="361.3" y2="424.9" stroke="#111" stroke-width="1"/>
<text x="358.1" y="429.09999999999997" font-size="11.6" text-anchor="end" font-weight="normal" fill="#111">1</text>
<line x1="359.1" y1="404.8" x2="361.3" y2="404.8" stroke="#111" stroke-width="1"/>
<text x="358.1" y="409.0" font-size="11.6" text-anchor="end" font-weight="normal" fill="#111">2</text>
<line x1="359.1" y1="384.7" x2="361.3" y2="384.7" stroke="#111" stroke-width="1"/>
<text x="358.1" y="388.9" font-size="11.6" text-anchor="end" font-weight="normal" fill="#111">3</text>
<line x1="359.1" y1="364.6" x2="361.3" y2="364.6" stroke="#111" stroke-width="1"/>
<text x="358.1" y="368.8" font-size="11.6" text-anchor="end" font-weight="normal" fill="#111">4</text>
<line x1="451.5" y1="445" x2="451.5" y2="447.5" stroke="#111" stroke-width="1"/>
<line x1="407.075" y1="445" x2="407.075" y2="447.5" stroke="#111" stroke-width="1"/>
<rect x="374.6" y="387.8" width="19.0" height="57.19999999999998" fill="#fff" stroke="#111" stroke-width="1"/>
<rect x="374.6" y="421.3" width="19.0" height="23.69999999999999" fill="#333" stroke="#111" stroke-width="1"/>
<line x1="384.1" y1="387.8" x2="384.1" y2="382" stroke="#222" stroke-width="1.0"/>
<line x1="382.40000000000003" y1="382" x2="385.8" y2="382" stroke="#222" stroke-width="1.1"/>
<line x1="384.1" y1="421.3" x2="384.1" y2="417.3" stroke="#222" stroke-width="1.0"/>
<line x1="382.40000000000003" y1="417.3" x2="385.8" y2="417.3" stroke="#222" stroke-width="1.1"/>
<rect x="420.8" y="398.8" width="18.5" height="46.19999999999998" fill="#fff" stroke="#111" stroke-width="1"/>
<rect x="420.8" y="425.4" width="18.5" height="19.600000000000023" fill="#333" stroke="#111" stroke-width="1"/>
<line x1="430.05" y1="398.8" x2="430.05" y2="394.2" stroke="#222" stroke-width="1.0"/>
<line x1="428.35" y1="394.2" x2="431.75" y2="394.2" stroke="#222" stroke-width="1.1"/>
<line x1="430.05" y1="425.4" x2="430.05" y2="421.9" stroke="#222" stroke-width="1.0"/>
<line x1="428.35" y1="421.9" x2="431.75" y2="421.9" stroke="#222" stroke-width="1.1"/>
<text x="385.2" y="458.9" font-size="11.6" text-anchor="middle" font-weight="normal" fill="#111">IV only</text>
<text x="429.4" y="458.9" font-size="11.6" text-anchor="middle" font-weight="normal" fill="#111">IV + IT</text>
<text transform="translate(347.5,439) rotate(-90)" x="0" y="0" font-size="11.95" text-anchor="start" fill="#111">B cells (x10<tspan font-size="7.2" dy="-4.6">-7</tspan><tspan dy="4.6">)</tspan></text>
</svg></body></html>
